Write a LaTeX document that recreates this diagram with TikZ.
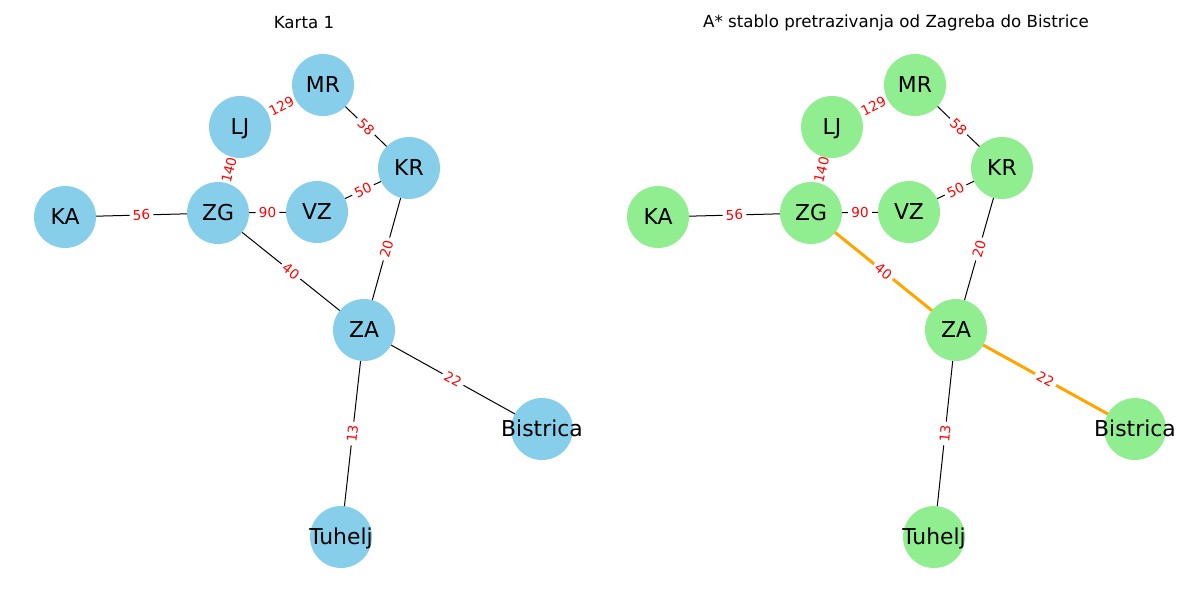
\documentclass[tikz,border=0pt]{standalone}
\usepackage{fontspec}
\setmainfont{DejaVu Sans}
\usetikzlibrary{backgrounds}
\definecolor{skyblue}{HTML}{87CEEB}
\definecolor{lgreen}{HTML}{90EE90}
\definecolor{orng}{HTML}{FFA500}
\tikzset{
  vtx/.style={circle, minimum size=46.5pt, inner sep=0pt, draw=none},
  bluev/.style={vtx, fill=skyblue},
  greenv/.style={vtx, fill=lgreen},
  vlbl/.style={font=\fontsize{16.4}{18}\selectfont, text height=0.76em, text depth=0.24em, inner sep=0pt, yshift=-2.8pt},
  edge/.style={draw=black, line width=0.75pt},
  treepath/.style={draw=orng, line width=2.25pt},
  wt/.style={font=\fontsize{10.2}{12}\selectfont, text=red, fill=white, inner sep=2.4pt, sloped, midway},
  ttl/.style={font=\fontsize{12.5}{14}\selectfont}
}
\begin{document}
\begin{tikzpicture}[x=0.75pt, y=-0.75pt]
\useasboundingbox (0,0) rectangle (1200,600);
\node[ttl] (t1) at (304,23) {Karta 1};
\node[ttl] (t2) at (896,23) {A* stablo pretrazivanja od Zagreba do Bistrice};
% left panel nodes
\node[bluev, label={[vlbl]center:MR}] (LMR) at (323,85) {};
\node[bluev, label={[vlbl]center:LJ}] (LLJ) at (240,127) {};
\node[bluev, label={[vlbl]center:KR}] (LKR) at (409,168) {};
\node[bluev, label={[vlbl]center:KA}] (LKA) at (65,217) {};
\node[bluev, label={[vlbl]center:ZG}] (LZG) at (218,213) {};
\node[bluev, label={[vlbl]center:VZ}] (LVZ) at (317,212) {};
\node[bluev, label={[vlbl]center:ZA}] (LZA) at (364,330) {};
\node[bluev, label={[vlbl]center:Bistrica}] (LBI) at (542,429) {};
\node[bluev, label={[vlbl]center:Tuhelj}] (LTU) at (341,537) {};
% right panel nodes
\node[greenv, label={[vlbl]center:MR}] (RMR) at (915,85) {};
\node[greenv, label={[vlbl]center:LJ}] (RLJ) at (832,127) {};
\node[greenv, label={[vlbl]center:KR}] (RKR) at (1002,168) {};
\node[greenv, label={[vlbl]center:KA}] (RKA) at (658,217) {};
\node[greenv, label={[vlbl]center:ZG}] (RZG) at (811,213) {};
\node[greenv, label={[vlbl]center:VZ}] (RVZ) at (909,212) {};
\node[greenv, label={[vlbl]center:ZA}] (RZA) at (956,330) {};
\node[greenv, label={[vlbl]center:Bistrica}] (RBI) at (1135,429) {};
\node[greenv, label={[vlbl]center:Tuhelj}] (RTU) at (934,537) {};
\begin{scope}[on background layer]
% left edges
\draw[edge] (LMR.center) -- (LLJ.center);
\draw[edge] (LMR.center) -- (LKR.center);
\draw[edge] (LLJ.center) -- (LZG.center);
\draw[edge] (LKA.center) -- (LZG.center);
\draw[edge] (LZG.center) -- (LVZ.center);
\draw[edge] (LVZ.center) -- (LKR.center);
\draw[edge] (LKR.center) -- (LZA.center);
\draw[edge] (LZG.center) -- (LZA.center);
\draw[edge] (LZA.center) -- (LBI.center);
\draw[edge] (LZA.center) -- (LTU.center);
% right edges
\draw[edge] (RMR.center) -- (RLJ.center);
\draw[edge] (RMR.center) -- (RKR.center);
\draw[edge] (RLJ.center) -- (RZG.center);
\draw[edge] (RKA.center) -- (RZG.center);
\draw[edge] (RZG.center) -- (RVZ.center);
\draw[edge] (RVZ.center) -- (RKR.center);
\draw[edge] (RKR.center) -- (RZA.center);
\draw[treepath] (RZG.center) -- (RZA.center);
\draw[treepath] (RZA.center) -- (RBI.center);
\draw[edge] (RZA.center) -- (RTU.center);
% left weights
\path (LMR.center) -- node[wt] {129} (LLJ.center);
\path (LMR.center) -- node[wt] {58} (LKR.center);
\path (LLJ.center) -- node[wt] {140} (LZG.center);
\path (LKA.center) -- node[wt] {56} (LZG.center);
\path (LZG.center) -- node[wt] {90} (LVZ.center);
\path (LVZ.center) -- node[wt] {50} (LKR.center);
\path (LKR.center) -- node[wt] {20} (LZA.center);
\path (LZG.center) -- node[wt] {40} (LZA.center);
\path (LZA.center) -- node[wt] {22} (LBI.center);
\path (LZA.center) -- node[wt] {13} (LTU.center);
% right weights
\path (RMR.center) -- node[wt] {129} (RLJ.center);
\path (RMR.center) -- node[wt] {58} (RKR.center);
\path (RLJ.center) -- node[wt] {140} (RZG.center);
\path (RKA.center) -- node[wt] {56} (RZG.center);
\path (RZG.center) -- node[wt] {90} (RVZ.center);
\path (RVZ.center) -- node[wt] {50} (RKR.center);
\path (RKR.center) -- node[wt] {20} (RZA.center);
\path (RZG.center) -- node[wt] {40} (RZA.center);
\path (RZA.center) -- node[wt] {22} (RBI.center);
\path (RZA.center) -- node[wt] {13} (RTU.center);
\end{scope}
\end{tikzpicture}
\end{document}
